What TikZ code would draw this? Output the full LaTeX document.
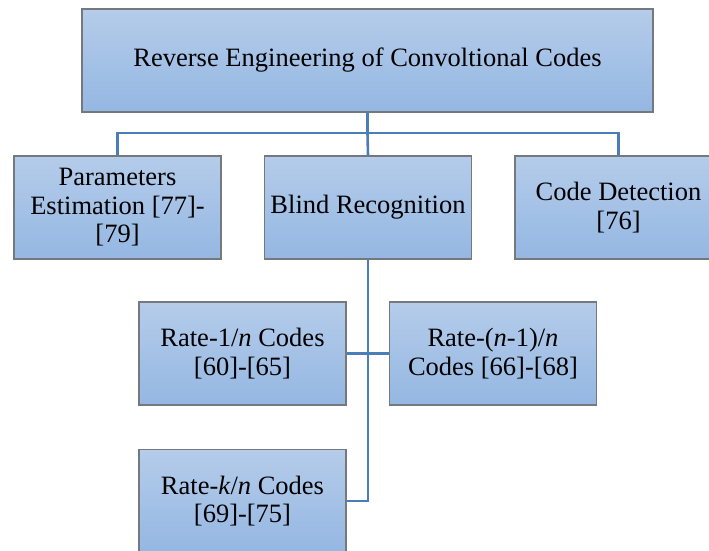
\documentclass[tikz,border=0pt]{standalone}
\usepackage{fontspec}
\setmainfont{Liberation Serif}
\definecolor{boxtop}{HTML}{B5CCEA}
\definecolor{boxbot}{HTML}{94B7E2}
\definecolor{boxline}{HTML}{75797E}
\definecolor{connline}{HTML}{4A7EBB}
\tikzset{
  box/.style={draw=boxline, line width=1.1pt, top color=boxtop, bottom color=boxbot,
    minimum width=207pt, minimum height=103pt, align=center, inner sep=0pt,
    font=\fontsize{26.5}{28.5}\selectfont},
  conn/.style={draw=connline, line width=2.6pt}
}
\begin{document}
\begin{tikzpicture}[x=1pt,y=-1pt]
\useasboundingbox (0,0) rectangle (709,551);
\node[box, minimum width=571pt] (top) at (367.5,60.5) {Reverse Engineering of Convoltional Codes};
\node[box] (par) at (117.5,207.5) {Parameters\\Estimation [77]-\\{[79]}};
\node[box] (blind) at (368,207.5) {Blind Recognition};
\node[box] (det) at (618.5,207.5) {Code Detection\\{[76]}};
\node[box] (r1) at (242.5,353.5) {Rate-1/\textit{n} Codes\\{[60]-[65]}};
\node[box] (r2) at (493,353.5) {Rate-(\textit{n}-1)/\textit{n}\\Codes [66]-[68]};
\node[box] (r3) at (242.5,501) {Rate-\textit{k}/\textit{n} Codes\\{[69]-[75]}};
\coordinate (hub) at (367.5,133);
\draw[conn] (top.south) -- (hub);
\draw[conn] (par.north) |- (hub) -| (det.north);
\draw[conn] (hub) -- (blind.north);
\draw[conn] (blind.south) |- (r3.east);
\draw[conn] (r1.east) -- (r2.west);
\end{tikzpicture}
\end{document}
